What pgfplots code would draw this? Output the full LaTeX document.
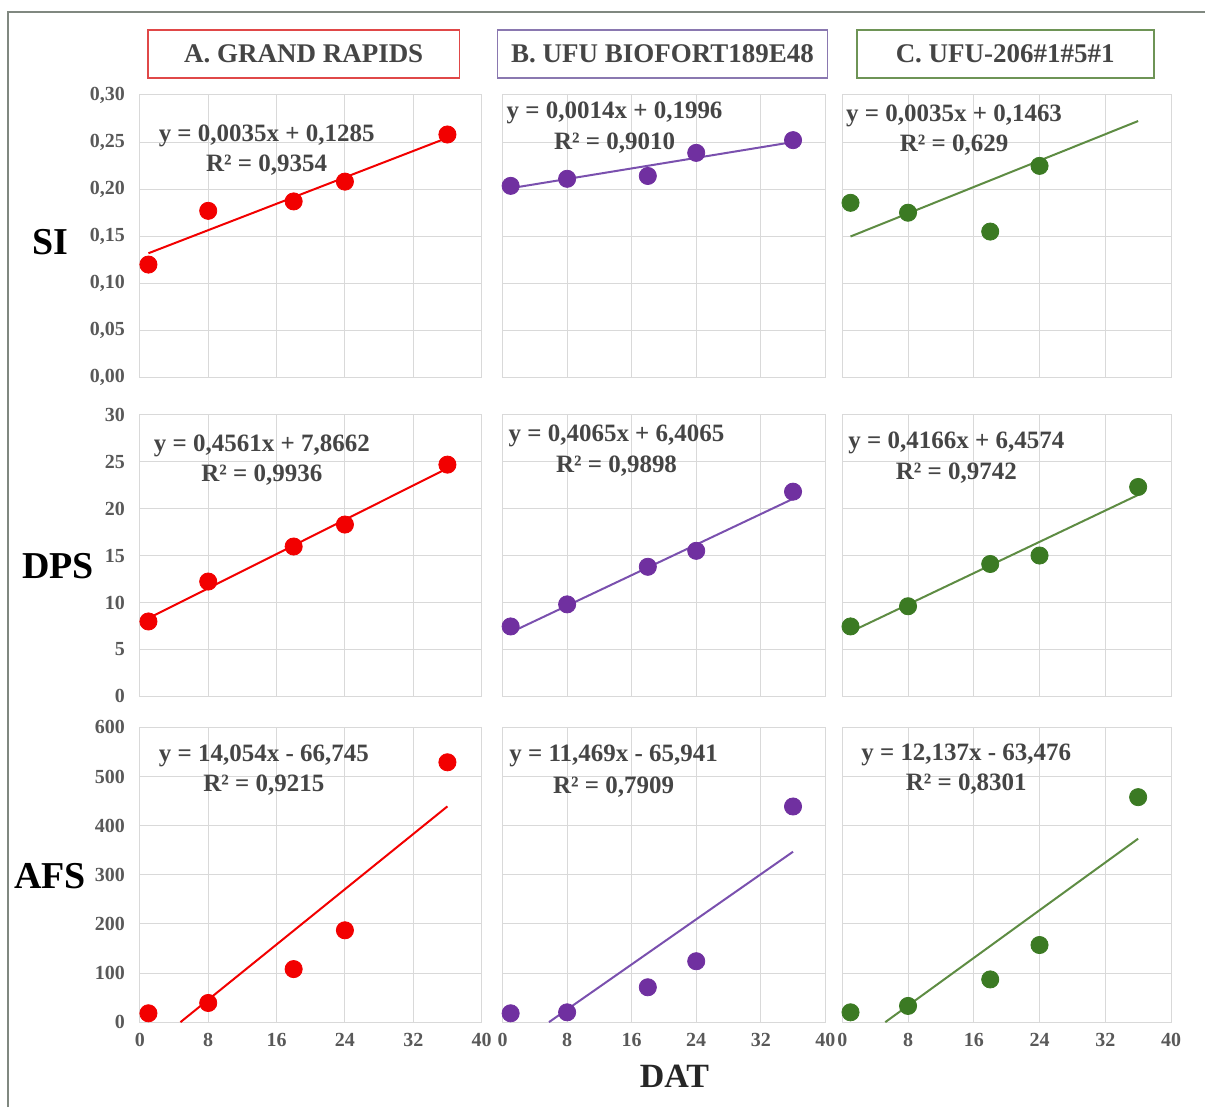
\documentclass[border=0pt]{standalone}
\usepackage{fontspec}
\setmainfont{Liberation Serif}
\usepackage{pgfplots}
\pgfplotsset{compat=1.18}

\definecolor{gridgray}{HTML}{D9D9D9}
\definecolor{tickgray}{HTML}{595959}
\definecolor{eqgray}{HTML}{454545}
\definecolor{cred}{HTML}{F20000}
\definecolor{cpurple}{HTML}{7030A0}
\definecolor{cpurpleline}{HTML}{7A50AE}
\definecolor{cgreen}{HTML}{3B7A23}
\definecolor{cgreenline}{HTML}{5E8C43}
\definecolor{boxred}{HTML}{E04848}
\definecolor{boxpurple}{HTML}{8A78B0}
\definecolor{boxgreen}{HTML}{6E9456}
\definecolor{framegray}{HTML}{808880}

\pgfplotsset{
  panel/.style={
    scale only axis, anchor=south west,
    xmin=0, xmax=40, xtick={0,8,16,24,32,40},
    grid=major, major grid style={gridgray, line width=0.5pt},
    axis line style={gridgray, line width=0.5pt},
    major tick length=0pt,
    tick label style={font=\bfseries\fontsize{10}{12}\selectfont, text=tickgray},
    /pgf/number format/assume math mode=true,
    yticklabel style={xshift=-4pt},
    xticklabel style={yshift=-2pt},
  },
  nox/.style={xticklabels={}},
  noy/.style={yticklabels={}},
  si/.style={ymin=0, ymax=0.3, ytick={0,0.05,0.1,0.15,0.2,0.25,0.3},
    yticklabel style={/pgf/number format/.cd, fixed, fixed zerofill, precision=2, use comma}},
  dps/.style={ymin=0, ymax=30, ytick={0,5,10,15,20,25,30}},
  afs/.style={ymin=0, ymax=600, ytick={0,100,200,300,400,500,600}},
  colA/.style={width=171pt},
  colB/.style={width=161.5pt},
  colC/.style={width=164.5pt},
  rowSI/.style={height=141.5pt},
  rowDPS/.style={height=141pt},
  rowAFS/.style={height=147.5pt},
  trend/.style={line width=1pt, no marks},
  dots/.style={only marks, mark=*, mark size=4.3pt},
}
\newcommand{\eqfont}{\bfseries\fontsize{12.5}{14}\selectfont\color{eqgray}}

\begin{document}
\begin{tikzpicture}
\path (0,0) rectangle (603pt,554pt);
\draw[framegray, line width=1pt] (4pt,0pt) -- (4pt,548pt) -- (603pt,548pt);

% titles
\draw[boxred, line width=0.8pt, fill=white] (74pt,515pt) rectangle (230pt,539pt);
\node[font=\bfseries\fontsize{13.5}{15}\selectfont, text=eqgray] at (152pt,527pt) {A. GRAND RAPIDS};
\draw[boxpurple, line width=0.8pt, fill=white] (249pt,515pt) rectangle (414pt,539pt);
\node[font=\bfseries\fontsize{13.5}{15}\selectfont, text=eqgray] at (331.5pt,527pt) {B. UFU BIOFORT189E48};
\draw[boxgreen, line width=0.8pt, fill=white] (429pt,515pt) rectangle (577.5pt,539pt);
\node[font=\bfseries\fontsize{13.5}{15}\selectfont, text=eqgray] at (503pt,527pt) {C. UFU-206\#1\#5\#1};

% row labels
\node[font=\bfseries\fontsize{19}{21}\selectfont] at (25pt,433pt) {SI};
\node[font=\bfseries\fontsize{19}{21}\selectfont] at (29pt,270.5pt) {DPS};
\node[font=\bfseries\fontsize{19}{21}\selectfont] at (25pt,115.5pt) {AFS};
\node[font=\bfseries\fontsize{17}{19}\selectfont, text=black!85] at (337.5pt,15.5pt) {DAT};

% ---------- SI row ----------
\begin{axis}[panel, si, colA, rowSI, nox, at={(70pt,365pt)}]
\addplot[trend, cred] coordinates {(1,0.1320) (36,0.2545)};
\addplot[dots, cred] coordinates {(1,0.120) (8,0.177) (18,0.187) (24,0.208) (36,0.258)};
\node[font=\eqfont] at (rel axis cs:0.371,0.855) {y = 0,0035x + 0,1285};
\node[font=\eqfont] at (rel axis cs:0.371,0.753) {R² = 0,9354};
\end{axis}
\begin{axis}[panel, si, colB, rowSI, nox, noy, at={(251.5pt,365pt)}]
\addplot[trend, cpurpleline] coordinates {(1,0.2010) (36,0.2500)};
\addplot[dots, cpurple] coordinates {(1,0.2035) (8,0.211) (18,0.214) (24,0.2385) (36,0.252)};
\node[font=\eqfont] at (rel axis cs:0.347,0.936) {y = 0,0014x + 0,1996};
\node[font=\eqfont] at (rel axis cs:0.347,0.830) {R² = 0,9010};
\end{axis}
\begin{axis}[panel, si, colC, rowSI, nox, noy, at={(421.5pt,365pt)}]
\addplot[trend, cgreenline] coordinates {(1,0.1498) (36,0.2723)};
\addplot[dots, cgreen] coordinates {(1,0.1855) (8,0.175) (18,0.155) (24,0.2247)};
\node[font=\eqfont] at (rel axis cs:0.340,0.926) {y = 0,0035x + 0,1463};
\node[font=\eqfont] at (rel axis cs:0.340,0.823) {R² = 0,629};
\end{axis}

% ---------- DPS row ----------
\begin{axis}[panel, dps, colA, rowDPS, nox, at={(70pt,205.5pt)}]
\addplot[trend, cred] coordinates {(1,8.3223) (36,24.2858)};
\addplot[dots, cred] coordinates {(1,7.98) (8,12.23) (18,15.96) (24,18.3) (36,24.68)};
\node[font=\eqfont] at (rel axis cs:0.357,0.890) {y = 0,4561x + 7,8662};
\node[font=\eqfont] at (rel axis cs:0.357,0.784) {R² = 0,9936};
\end{axis}
\begin{axis}[panel, dps, colB, rowDPS, nox, noy, at={(251.5pt,205.5pt)}]
\addplot[trend, cpurpleline] coordinates {(1,6.8130) (36,21.0405)};
\addplot[dots, cpurple] coordinates {(1,7.45) (8,9.8) (18,13.8) (24,15.5) (36,21.8)};
\node[font=\eqfont] at (rel axis cs:0.353,0.926) {y = 0,4065x + 6,4065};
\node[font=\eqfont] at (rel axis cs:0.353,0.819) {R² = 0,9898};
\end{axis}
\begin{axis}[panel, dps, colC, rowDPS, nox, noy, at={(421.5pt,205.5pt)}]
\addplot[trend, cgreenline] coordinates {(1,6.8740) (36,21.4550)};
\addplot[dots, cgreen] coordinates {(1,7.45) (8,9.6) (18,14.1) (24,15.0) (36,22.3)};
\node[font=\eqfont] at (rel axis cs:0.347,0.901) {y = 0,4166x + 6,4574};
\node[font=\eqfont] at (rel axis cs:0.347,0.794) {R² = 0,9742};
\end{axis}

% ---------- AFS row ----------
\begin{axis}[panel, afs, colA, rowAFS, at={(70pt,42.5pt)}]
\addplot[trend, cred] coordinates {(4.749,0) (36,439.2)};
\addplot[dots, cred] coordinates {(1,18) (8,39) (18,108) (24,187) (36,529)};
\node[font=\eqfont] at (rel axis cs:0.363,0.902) {y = 14,054x - 66,745};
\node[font=\eqfont] at (rel axis cs:0.363,0.803) {R² = 0,9215};
\end{axis}
\begin{axis}[panel, afs, colB, rowAFS, noy, at={(251.5pt,42.5pt)}]
\addplot[trend, cpurpleline] coordinates {(5.7495,0) (36,346.94)};
\addplot[dots, cpurple] coordinates {(1,18) (8,20) (18,71) (24,124) (36,439)};
\node[font=\eqfont] at (rel axis cs:0.344,0.902) {y = 11,469x - 65,941};
\node[font=\eqfont] at (rel axis cs:0.344,0.797) {R² = 0,7909};
\end{axis}
\begin{axis}[panel, afs, colC, rowAFS, noy, at={(421.5pt,42.5pt)}]
\addplot[trend, cgreenline] coordinates {(5.230,0) (36,373.46)};
\addplot[dots, cgreen] coordinates {(1,20) (8,33) (18,87) (24,157) (36,458)};
\node[font=\eqfont] at (rel axis cs:0.377,0.908) {y = 12,137x - 63,476};
\node[font=\eqfont] at (rel axis cs:0.377,0.807) {R² = 0,8301};
\end{axis}
\end{tikzpicture}
\end{document}
